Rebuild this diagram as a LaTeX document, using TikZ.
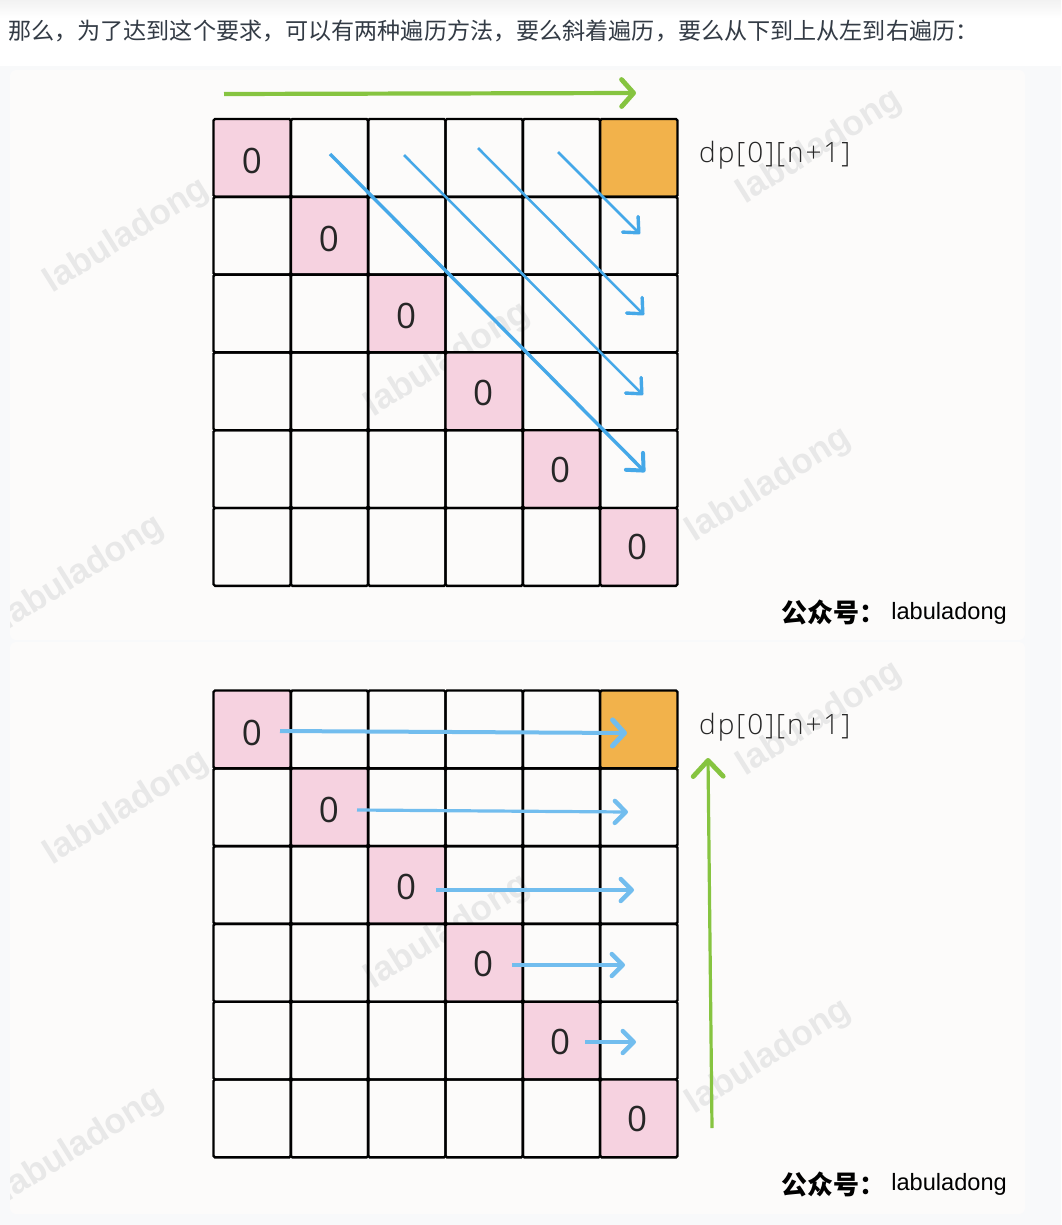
\documentclass[tikz,border=0pt]{standalone}
\usepackage{fontspec}
\setmainfont{Liberation Sans}
\newfontfamily\cjk{Noto Sans CJK SC}
\newfontfamily\cjkb{Noto Sans CJK SC Black}
\newfontfamily\dpf[LetterSpace=7]{Open Sans Light}
\newfontfamily\zerof{Open Sans}
\usetikzlibrary{arrows.meta,calc}
\definecolor{panelc}{HTML}{FCFBFA}
\definecolor{pagec}{HTML}{F8F9FA}
\definecolor{pinkc}{HTML}{F6D2E0}
\definecolor{orangec}{HTML}{F2B24B}
\definecolor{bluea}{HTML}{45A8E8}
\definecolor{blueb}{HTML}{72BDEE}
\definecolor{greenc}{HTML}{86C440}
\definecolor{txtc}{HTML}{333B45}
\tikzset{
  x=1pt,y=-1pt,
  panelbox/.style={fill=panelc,draw=none,rounded corners=6pt},
  cellbox/.style={draw=black,line width=2.4pt,rounded corners=1.5pt,outer sep=0pt,minimum width=77.33pt,minimum height=77.8pt,inner sep=0pt,anchor=north west},
  zerocell/.style={cellbox,fill=pinkc},
  orangecell/.style={cellbox,fill=orangec},
  zerotext/.style={inner sep=0pt,text=black!85,font=\zerof\fontsize{35}{35}\selectfont},
  wmark/.style={rotate=32,text=black!9,font=\bfseries\fontsize{35}{35}\selectfont},
  dplabel/.style={anchor=west,inner sep=0pt,text=black!85,font=\dpf\fontsize{28}{28}\selectfont},
  brand/.style={anchor=east,inner sep=0pt,text=black,font=\fontsize{23.6}{24}\selectfont},
  brandcn/.style={anchor=east,inner sep=0pt,text=black,font=\cjkb\fontsize{26}{26}\selectfont},
  diagthin/.style={draw=bluea,line width=2.5pt,-{Straight Barb[length=12pt,width=22pt,line width=3.4pt,round]}},
  diagthick/.style={draw=bluea,line width=3.4pt,-{Straight Barb[length=13pt,width=24pt,line width=4pt,round]}},
  rowarrow/.style={draw=blueb,line width=3.2pt,-{Straight Barb[length=11pt,width=22pt,line width=4.4pt,round]}},
  rowfirst/.style={draw=blueb,line width=4pt,-{Straight Barb[length=12pt,width=26pt,line width=5pt,round]}},
  greentop/.style={draw=greenc,line width=4.2pt,-{Straight Barb[length=12pt,width=27pt,line width=4.8pt,round]}},
  greenup/.style={draw=greenc,line width=3.2pt,-{Straight Barb[length=16pt,width=30pt,line width=4.8pt,round]}},
}
\newcommand{\gridpanel}[2]{%
  % #1 = name prefix, #2 = top of the grid
  \foreach \ri in {0,...,5}{
    \foreach \ci in {0,...,5}{
      \pgfmathsetmacro{\cx}{213.5+77.33*\ci}
      \pgfmathsetmacro{\cy}{#2+77.8*\ri}
      \pgfmathtruncatemacro{\same}{\ri==\ci ? 1 : 0}
      \pgfmathtruncatemacro{\corner}{(\ri==0 && \ci==5) ? 1 : 0}
      \ifnum\same=1
        \node[zerocell] (#1-\ri-\ci) at (\cx,\cy) {};
      \else\ifnum\corner=1
        \node[orangecell] (#1-\ri-\ci) at (\cx,\cy) {};
      \else
        \node[cellbox] (#1-\ri-\ci) at (\cx,\cy) {};
      \fi\fi
    }
  }
  \foreach \ri in {0,...,5}{
    \pgfmathsetmacro{\zx}{252+77*\ri}
    \pgfmathsetmacro{\zy}{#2+42.3+77.2*\ri}
    \node[zerotext] (#1-z\ri) at (\zx,\zy) {0};
  }
  \node[dplabel] (#1-dp) at (699,#2+36.5) {dp[0][n+1]};
  \node[brand] (#1-brand) at (1007,#2+494) {labuladong};
  \node[brandcn] (#1-brandcn) at (886,#2+494) {公众号：};
}
\newcommand{\wmarks}[1]{%
  \begin{scope}
    \clip[rounded corners=6pt] (10,#1) rectangle (1025,#1+570);
    \node[wmark] (w1#1) at (127,#1+166) {labuladong};
    \node[wmark] (w2#1) at (820,#1+77) {labuladong};
    \node[wmark] (w3#1) at (448,#1+290) {labuladong};
    \node[wmark] (w4#1) at (769,#1+415) {labuladong};
    \node[wmark] (w5#1) at (82,#1+503) {labuladong};
  \end{scope}
}
\begin{document}
\begin{tikzpicture}
\useasboundingbox (0,0) rectangle (1061,1225);
\fill[white] (0,0) rectangle (1061,1225);
\fill[pagec] (0,66) rectangle (1061,1225);
\shade[top color=black!5,bottom color=white] (0,0) rectangle (1061,18);
\node[anchor=west,text=txtc,inner sep=0pt,font=\cjk\fontsize{23.1}{23.1}\selectfont] (intro) at (8,31) {那么，为了达到这个要求，可以有两种遍历方法，要么斜着遍历，要么从下到上从左到右遍历：};
\fill[panelbox] (10,70) rectangle (1025,640);
\fill[panelbox] (10,642) rectangle (1025,1214);
\wmarks{70}
\wmarks{642}
\gridpanel{t}{119}
\gridpanel{b}{690.5}
% top panel arrows
\coordinate (g1s) at (224,94); \coordinate (g1e) at (636,93);
\draw[greentop] (g1s) -- (g1e);
\coordinate (d1s) at (330,154); \coordinate (d1e) at (645,472);
\coordinate (d2s) at (404,155); \coordinate (d2e) at (643,395);
\coordinate (d3s) at (478,148); \coordinate (d3e) at (644,315);
\coordinate (d4s) at (558,152); \coordinate (d4e) at (640,234);
\draw[diagthick] (d1s) -- (d1e);
\draw[diagthin] (d2s) -- (d2e);
\draw[diagthin] (d3s) -- (d3e);
\draw[diagthin] (d4s) -- (d4e);
% bottom panel arrows
\coordinate (r1s) at (280,731); \coordinate (r1e) at (627,733);
\coordinate (r2s) at (357,810); \coordinate (r2e) at (628,812);
\coordinate (r3s) at (436,890); \coordinate (r3e) at (634,890);
\coordinate (r4s) at (512,965); \coordinate (r4e) at (625,965);
\coordinate (r5s) at (585,1042); \coordinate (r5e) at (636,1042);
\draw[rowfirst] (r1s) -- (r1e);
\foreach \i in {2,...,5}{\draw[rowarrow] (r\i s) -- (r\i e);}
\coordinate (g2s) at (712,1128); \coordinate (g2e) at (708,758);
\draw[greenup] (g2s) -- (g2e);
\end{tikzpicture}
\end{document}
